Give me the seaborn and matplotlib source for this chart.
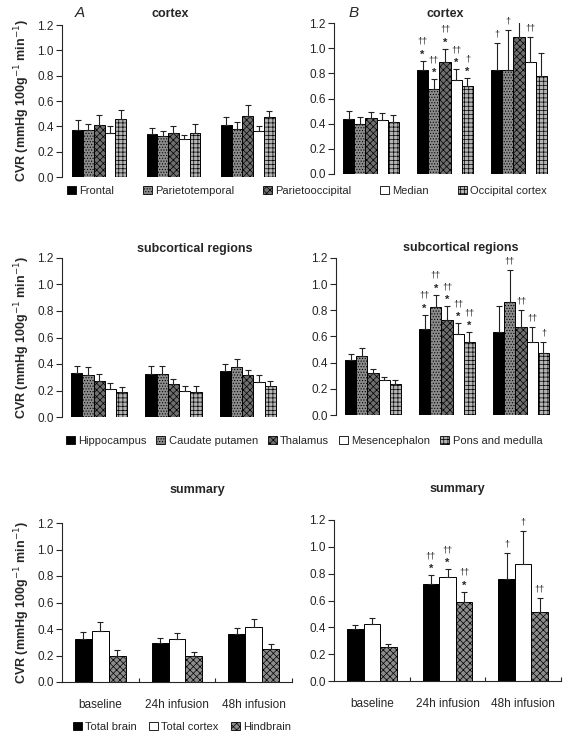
import pandas as pd
import matplotlib.pyplot as plt
import seaborn as sns
from matplotlib.patches import Patch

groups = ['baseline', '24h infusion', '48h infusion']

cortex_regions = ['Frontal', 'Parietotemporal', 'Parietooccipital', 'Median', 'Occipital cortex']
sub_regions = ['Hippocampus', 'Caudate putamen', 'Thalamus', 'Mesencephalon', 'Pons and medulla']
sum_regions = ['Total brain', 'Total cortex', 'Hindbrain']

# rows = groups, columns = regions
cortex_a_mean = [[0.37, 0.375, 0.41, 0.35, 0.455],
                 [0.34, 0.32, 0.35, 0.30, 0.35],
                 [0.41, 0.38, 0.48, 0.36, 0.47]]
cortex_a_err = [[0.08, 0.045, 0.08, 0.05, 0.075],
                [0.05, 0.04, 0.05, 0.035, 0.07],
                [0.065, 0.055, 0.09, 0.04, 0.05]]

cortex_b_mean = [[0.435, 0.395, 0.443, 0.43, 0.41],
                 [0.823, 0.674, 0.889, 0.749, 0.70],
                 [0.828, 0.828, 1.088, 0.89, 0.78]]
cortex_b_err = [[0.065, 0.06, 0.047, 0.053, 0.06],
                [0.077, 0.08, 0.106, 0.085, 0.062],
                [0.21, 0.32, 0.13, 0.20, 0.18]]
cortex_b_marks = [['', '', '', '', ''],
                  ['††*', '††*', '††*', '††*', '†*'],
                  ['†', '†', '', '††', '']]

sub_a_mean = [[0.33, 0.315, 0.27, 0.21, 0.186],
              [0.327, 0.322, 0.249, 0.20, 0.189],
              [0.35, 0.377, 0.314, 0.264, 0.236]]
sub_a_err = [[0.057, 0.062, 0.055, 0.047, 0.04],
             [0.055, 0.06, 0.038, 0.036, 0.042],
             [0.053, 0.063, 0.038, 0.056, 0.038]]

sub_b_mean = [[0.418, 0.453, 0.32, 0.265, 0.24],
              [0.66, 0.825, 0.724, 0.62, 0.56],
              [0.632, 0.866, 0.673, 0.555, 0.474]]
sub_b_err = [[0.048, 0.059, 0.03, 0.025, 0.025],
             [0.107, 0.095, 0.106, 0.083, 0.072],
             [0.204, 0.242, 0.127, 0.118, 0.084]]
sub_b_marks = [['', '', '', '', ''],
               ['††*', '††*', '††*', '††*', '††*'],
               ['', '††', '††', '††', '†']]

sum_a_mean = [[0.326, 0.388, 0.198],
              [0.293, 0.326, 0.193],
              [0.361, 0.418, 0.248]]
sum_a_err = [[0.054, 0.068, 0.045],
             [0.04, 0.042, 0.03],
             [0.049, 0.058, 0.04]]

sum_b_mean = [[0.385, 0.425, 0.251],
              [0.723, 0.773, 0.591],
              [0.758, 0.872, 0.512]]
sum_b_err = [[0.03, 0.047, 0.025],
              [0.067, 0.059, 0.075],
              [0.194, 0.248, 0.109]]
sum_b_marks = [['', '', ''],
               ['††*', '††*', '††*'],
               ['†', '†', '††']]

sns.set_style('ticks')
plt.rcParams['font.family'] = ['Liberation Sans', 'DejaVu Sans']
plt.rcParams['hatch.linewidth'] = 0.5

cortex_style = [('black', ''), ('#8c8c8c', '......'), ('#6e6e6e', 'xxxxx'), ('white', ''), ('#b4b4b4', '++++')]
sub_style = [('black', ''), ('#8c8c8c', '......'), ('#6e6e6e', 'xxxxx'), ('white', ''), ('#b4b4b4', '++++')]
sum_style = [('black', ''), ('white', ''), ('#8c8c8c', 'xxxxx')]


def make_df(means, errs, regions):
    rows = []
    for gi, g in enumerate(groups):
        for ri, r in enumerate(regions):
            rows.append({'group': g, 'region': r, 'cvr': means[gi][ri], 'se': errs[gi][ri]})
    return pd.DataFrame(rows)


def panel(ax, means, errs, regions, style, width, marks=None, bottom_axis=False):
    df = make_df(means, errs, regions)
    pal = {r: s[0] for r, s in zip(regions, style)}
    sns.barplot(data=df, x='group', y='cvr', hue='region', order=groups, hue_order=regions,
                palette=pal, edgecolor='black', linewidth=0.7, width=width,
                errorbar=None, legend=False, ax=ax, saturation=1)
    bar_conts = list(ax.containers)
    for ri, cont in enumerate(bar_conts):
        for gi, p in enumerate(cont.patches):
            p.set_hatch(style[ri][1])
            x = p.get_x() + p.get_width() / 2
            h = p.get_height()
            e = errs[gi][ri]
            ax.errorbar([x], [h], yerr=[[0], [e]], fmt='none', ecolor='#222222',
                        elinewidth=0.8, capsize=2.5, capthick=0.8)
            if marks:
                m = marks[gi][ri]
                d = m.replace('*', '')
                if '*' in m:
                    ax.annotate('*', (x, h + e), xytext=(0, 4.5), textcoords='offset points',
                                ha='center', va='center', fontsize=8, fontweight='bold')
                    if d:
                        ax.annotate(d, (x, h + e), xytext=(0, 14), textcoords='offset points',
                                    ha='center', va='center', fontsize=6.5)
                elif d:
                    ax.annotate(d, (x, h + e), xytext=(0, 6.5), textcoords='offset points',
                                ha='center', va='center', fontsize=6.5)
    ax.set_ylim(0, 1.2)
    ax.set_xlim(-0.5, 2.5)
    ax.set_yticks([0, 0.2, 0.4, 0.6, 0.8, 1.0, 1.2])
    ax.set_yticklabels(['0.0', '0.2', '0.4', '0.6', '0.8', '1.0', '1.2'], fontsize=8.5)
    ax.tick_params(axis='y', length=4, width=0.8, pad=2)
    ax.set_xlabel('')
    ax.set_ylabel('')
    ax.spines['top'].set_visible(False)
    ax.spines['right'].set_visible(False)
    ax.spines['left'].set_linewidth(0.8)
    if bottom_axis:
        ax.set_xticks([0, 1, 2])
        ax.set_xticklabels(groups, fontsize=8.5)
        ax.tick_params(axis='x', which='major', length=0, pad=12)
        ax.set_xticks([0.5, 1.5, 2.5], minor=True)
        ax.tick_params(axis='x', which='minor', length=3, direction='in', width=0.8)
        ax.spines['bottom'].set_linewidth(0.8)
    else:
        ax.spines['bottom'].set_visible(False)
        ax.set_xticks([])


def handles(regions, style):
    return [Patch(facecolor=s[0], hatch=s[1], edgecolor='black', linewidth=0.6, label=r)
            for r, s in zip(regions, style)]


fig = plt.figure(figsize=(5.68, 7.37), dpi=100)

H = 737
W = 568


def add_ax(x0, x1, ytop, ybot):
    return fig.add_axes([x0 / W, 1 - ybot / H, (x1 - x0) / W, (ybot - ytop) / H])


ax1 = add_ax(62, 285, 25, 177)
ax2 = add_ax(334, 556, 23, 174)
ax3 = add_ax(62, 285, 258, 417)
ax4 = add_ax(336, 558, 258, 415)
ax5 = add_ax(62, 292, 523, 682)
ax6 = add_ax(334, 561, 520, 681)

panel(ax1, cortex_a_mean, cortex_a_err, cortex_regions, cortex_style, 0.72)
panel(ax2, cortex_b_mean, cortex_b_err, cortex_regions, cortex_style, 0.76, cortex_b_marks)
panel(ax3, sub_a_mean, sub_a_err, sub_regions, sub_style, 0.76)
panel(ax4, sub_b_mean, sub_b_err, sub_regions, sub_style, 0.76, sub_b_marks)
panel(ax5, sum_a_mean, sum_a_err, sum_regions, sum_style, 0.66, bottom_axis=True)
panel(ax6, sum_b_mean, sum_b_err, sum_regions, sum_style, 0.66, sum_b_marks, bottom_axis=True)

ylab = 'CVR (mmHg 100g$^{-1}$ min$^{-1}$)'
for ax in (ax1, ax3, ax5):
    ax.set_ylabel(ylab, fontsize=9, fontweight='bold', labelpad=4)

fig.text(80 / W, 1 - 13 / H, 'A', fontsize=11, style='italic', ha='center', va='center')
fig.text(354 / W, 1 - 13 / H, 'B', fontsize=11, style='italic', ha='center', va='center')
fig.text(170 / W, 1 - 14 / H, 'cortex', fontsize=9, fontweight='bold', ha='center', va='center')
fig.text(445 / W, 1 - 14 / H, 'cortex', fontsize=9, fontweight='bold', ha='center', va='center')
fig.text(195 / W, 1 - 249 / H, 'subcortical regions', fontsize=9, fontweight='bold', ha='center', va='center')
fig.text(461 / W, 1 - 248 / H, 'subcortical regions', fontsize=9, fontweight='bold', ha='center', va='center')
fig.text(197 / W, 1 - 490 / H, 'summary', fontsize=9, fontweight='bold', ha='center', va='center')
fig.text(457 / W, 1 - 489 / H, 'summary', fontsize=9, fontweight='bold', ha='center', va='center')

leg_kw = dict(frameon=False, fontsize=8, handlelength=0.8, handleheight=0.8, handletextpad=0.3)
fig.legend(handles=handles(cortex_regions, cortex_style), ncol=5, loc='center',
           bbox_to_anchor=(307 / W, 1 - 191 / H), columnspacing=2.6, **leg_kw)
fig.legend(handles=handles(sub_regions, sub_style), ncol=5, loc='center',
           bbox_to_anchor=(304 / W, 1 - 441 / H), columnspacing=0.9, **leg_kw)
fig.legend(handles=handles(sum_regions, sum_style), ncol=3, loc='center',
           bbox_to_anchor=(182 / W, 1 - 727 / H), columnspacing=1.1, **leg_kw)

fig.savefig('out.png', dpi=100)
